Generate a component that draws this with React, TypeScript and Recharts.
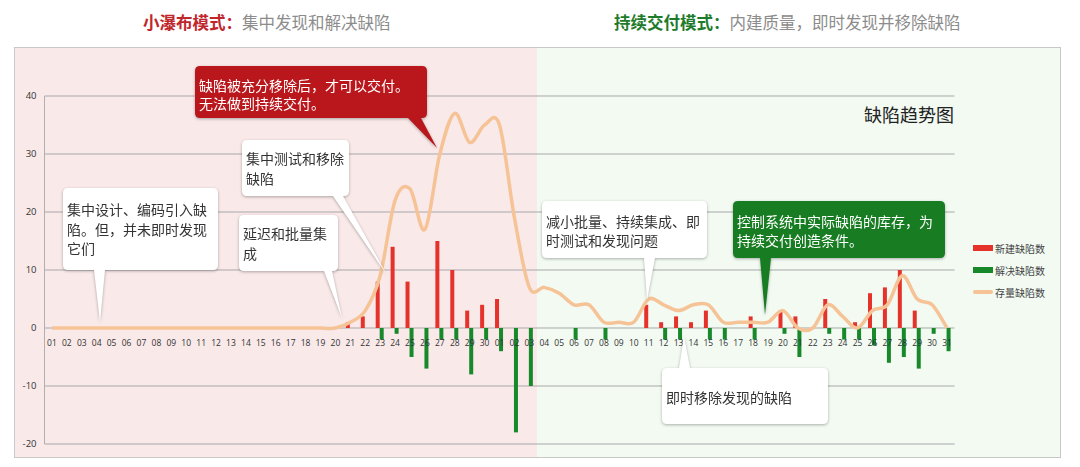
import React from 'react';
import { ComposedChart, Bar, Line, XAxis, YAxis, CartesianGrid, Legend } from 'recharts';

// 两个月的日期（上月 30 天，本月 31 天）
const days = [
  '01', '02', '03', '04', '05', '06', '07', '08', '09', '10',
  '11', '12', '13', '14', '15', '16', '17', '18', '19', '20',
  '21', '22', '23', '24', '25', '26', '27', '28', '29', '30',
  '01', '02', '03', '04', '05', '06', '07', '08', '09', '10',
  '11', '12', '13', '14', '15', '16', '17', '18', '19', '20',
  '21', '22', '23', '24', '25', '26', '27', '28', '29', '30', '31',
];

const newDefects = [
  0, 0, 0, 0, 0, 0, 0, 0, 0, 0,
  0, 0, 0, 0, 0, 0, 0, 0, 0, 0,
  1, 2, 8, 14, 8, 0, 15, 10, 3, 4,
  5, 0, 0, 0, 0, 0, 0, 0, 0, 0,
  4, 1, 2, 1, 3, 0, 0, 2, 0, 3,
  2, 0, 5, 0, 1, 6, 7, 10, 3, 0, 0,
];

const resolvedDefects = [
  0, 0, 0, 0, 0, 0, 0, 0, 0, 0,
  0, 0, 0, 0, 0, 0, 0, 0, 0, 0,
  0, 0, -2, -1, -5, -7, -2, -2, -8, -2,
  -4, -18, -10, 0, 0, -2, 0, -2, 0, 0,
  0, -2, -2, 0, -2, -2, 0, -2, 0, -1,
  -5, 0, -1, -2, -2, -3, -6, -5, -7, -1, -4,
];

const stockDefects = [
  0, 0, 0, 0, 0, 0, 0, 0, 0, 0,
  0, 0, 0, 0, 0, 0, 0, 0, 0, 0,
  1, 3, 9, 22, 24, 17, 30, 37, 32, 35,
  35, 19, 7, 7, 6, 4, 4, 1, 1, 1,
  5, 4, 3, 4, 4, 1, 1, 1, 1, 3,
  0, 0, 4, 2, 0, 3, 4, 9, 5, 4, 0,
];

const yTicks = [-20, -10, 0, 10, 20, 30, 40];
const legendOrder = ['新建缺陷数', '解决缺陷数', '存量缺陷数'];

const data = days.map((day, i) => ({
  day,
  newCount: newDefects[i],
  resolved: resolvedDefects[i],
  stock: stockDefects[i],
}));

const W = 1080;
const H = 467;
const PLOT_TOP = 96;
const PLOT_BOTTOM = 444;
const ZERO_Y = PLOT_TOP + ((PLOT_BOTTOM - PLOT_TOP) * 40) / 60;

const CJK = '"Noto Sans CJK SC", "Noto Sans", sans-serif';
const NUM = '"Open Sans", "DejaVu Sans", sans-serif';

// Excel 风格的平滑曲线（Catmull-Rom）
const smoothCurve = (context: any) => {
  let pts: number[][] = [];
  return {
    areaStart() {},
    areaEnd() {},
    lineStart() { pts = []; },
    lineEnd() {
      if (!pts.length) return;
      context.moveTo(pts[0][0], pts[0][1]);
      for (let i = 0; i < pts.length - 1; i++) {
        const p0 = pts[i - 1] || pts[i];
        const p1 = pts[i];
        const p2 = pts[i + 1];
        const p3 = pts[i + 2] || p2;
        context.bezierCurveTo(
          p1[0] + (p2[0] - p0[0]) / 6, p1[1] + (p2[1] - p0[1]) / 6,
          p2[0] - (p3[0] - p1[0]) / 6, p2[1] - (p3[1] - p1[1]) / 6,
          p2[0], p2[1],
        );
      }
    },
    point(x: number, y: number) { pts.push([+x, +y]); },
  };
};

const DayTick = (props: any) => {
  const { x, payload } = props;
  return (
    <text x={x} y={ZERO_Y + 14} textAnchor="middle" dominantBaseline="central"
      fontSize={8.5} fontFamily={NUM} fill="#333">
      {payload.value}
    </text>
  );
};

const renderLegend = (props: any) => {
  const items = [...(props.payload || [])].sort(
    (a: any, b: any) => legendOrder.indexOf(a.value) - legendOrder.indexOf(b.value),
  );
  return (
    <div>
      {items.map((entry: any) => (
        <div key={entry.value} style={{ display: 'flex', alignItems: 'center', height: 22 }}>
          <span style={{
            display: 'inline-block', width: 20,
            height: entry.type === 'line' ? 4 : 6,
            borderRadius: entry.type === 'line' ? 2 : 0,
            background: entry.color, marginRight: 2,
          }} />
          <span style={{ fontSize: 10, color: '#444', fontFamily: CJK }}>{entry.value}</span>
        </div>
      ))}
    </div>
  );
};

type Tail = { side: 'top' | 'bottom'; b1: number; b2: number; tx: number; ty: number };

const calloutPath = (x: number, y: number, w: number, h: number, r: number, t: Tail) => {
  const R = x + w, B = y + h;
  if (t.side === 'bottom') {
    return `M${x + r},${y} H${R - r} Q${R},${y} ${R},${y + r} V${B - r} Q${R},${B} ${R - r},${B}` +
      ` H${t.b2} L${t.tx},${t.ty} L${t.b1},${B} H${x + r} Q${x},${B} ${x},${B - r} V${y + r} Q${x},${y} ${x + r},${y} Z`;
  }
  return `M${x + r},${y} H${t.b1} L${t.tx},${t.ty} L${t.b2},${y} H${R - r} Q${R},${y} ${R},${y + r} V${B - r}` +
    ` Q${R},${B} ${R - r},${B} H${x + r} Q${x},${B} ${x},${B - r} V${y + r} Q${x},${y} ${x + r},${y} Z`;
};

const callouts = [
  { x: 195, y: 66, w: 232, h: 52, fill: '#b9171c', color: '#fff',
    tail: { side: 'bottom', b1: 408, b2: 421, tx: 437, ty: 148 } as Tail,
    lines: ['缺陷被充分移除后，才可以交付。', '无法做到持续交付。'], ys: [85, 103] },
  { x: 242, y: 140, w: 107, h: 56, fill: '#fff', color: '#333',
    tail: { side: 'bottom', b1: 333, b2: 343, tx: 387, ty: 275 } as Tail,
    lines: ['集中测试和移除', '缺陷'], ys: [158, 178] },
  { x: 63, y: 188, w: 155, h: 82, fill: '#fff', color: '#333',
    tail: { side: 'bottom', b1: 94, b2: 105, tx: 100, ty: 322 } as Tail,
    lines: ['集中设计、编码引入缺', '陷。但，并未即时发现', '它们'], ys: [209, 229, 248] },
  { x: 239, y: 215, w: 99, h: 56, fill: '#fff', color: '#333',
    tail: { side: 'bottom', b1: 324, b2: 332, tx: 342, ty: 318 } as Tail,
    lines: ['延迟和批量集', '成'], ys: [233, 253] },
  { x: 542, y: 201, w: 165, h: 57, fill: '#fff', color: '#333',
    tail: { side: 'bottom', b1: 644, b2: 655, tx: 647, ty: 300 } as Tail,
    lines: ['减小批量、持续集成、即', '时测试和发现问题'], ys: [221, 240] },
  { x: 733, y: 201, w: 212, h: 57, fill: '#177c22', color: '#fff',
    tail: { side: 'bottom', b1: 760, b2: 771, tx: 765, ty: 315 } as Tail,
    lines: ['控制系统中实际缺陷的库存，为', '持续交付创造条件。'], ys: [221, 240] },
  { x: 662, y: 368, w: 166, h: 56, fill: '#fff', color: '#333',
    tail: { side: 'top', b1: 679, b2: 690, tx: 684, ty: 336 } as Tail,
    lines: ['即时移除发现的缺陷'], ys: [397] },
];

const App: React.FC = () => {
  return (
    <div style={{ position: 'absolute', left: 0, top: 0, width: W, height: H, background: '#fff', fontFamily: CJK, overflow: 'hidden' }}>
      {/* 两个阶段的背景 */}
      <div style={{ position: 'absolute', left: 15, top: 48, width: 522, height: 409, background: '#f9e9e9' }} />
      <div style={{ position: 'absolute', left: 537, top: 48, width: 523, height: 409, background: '#f2faf2' }} />
      <div style={{ position: 'absolute', left: 14, top: 47, width: 1045, height: 409, border: '1px solid #c8c8c8' }} />

      <div style={{ position: 'absolute', left: 0, top: 0 }}>
        <ComposedChart width={W} height={H} data={data}
          margin={{ top: PLOT_TOP, right: 125.5, bottom: 3, left: 14.5 }}
          barSize={4} barGap={0}>
          <CartesianGrid horizontal vertical={false} stroke="#a9a9a9" />
          <XAxis dataKey="day" interval={0} axisLine={false} tickLine={false} height={20} tick={<DayTick />} />
          <YAxis domain={[-20, 40]} ticks={yTicks} width={30} tickLine={false}
            axisLine={{ stroke: '#b0b0b0' }}
            tick={{ fontSize: 9.5, fill: '#333', fontFamily: NUM }} />
          <Legend layout="vertical" align="center" verticalAlign="middle" content={renderLegend}
            wrapperStyle={{ left: 973, top: 237, width: 95 }} />
          <Bar dataKey="newCount" name="新建缺陷数" fill="#e5322b" isAnimationActive={false} />
          <Bar dataKey="resolved" name="解决缺陷数" fill="#17892b" isAnimationActive={false} />
          <Line dataKey="stock" name="存量缺陷数" type={smoothCurve as any} stroke="#f6c397" strokeWidth={3.5}
            dot={false} activeDot={false} isAnimationActive={false} />
        </ComposedChart>
      </div>

      <svg width={W} height={H} style={{ position: 'absolute', left: 0, top: 0, pointerEvents: 'none' }}>
        <text x={143} y={22} dominantBaseline="central" fontSize={16.5} fontFamily={CJK}>
          <tspan fill="#c0272d" fontWeight="bold">小瀑布模式：</tspan>
          <tspan fill="#8c8c8c">集中发现和解决缺陷</tspan>
        </text>
        <text x={614} y={22} dominantBaseline="central" fontSize={16.5} fontFamily={CJK}>
          <tspan fill="#1e7b2a" fontWeight="bold">持续交付模式：</tspan>
          <tspan fill="#8c8c8c">内建质量，即时发现并移除缺陷</tspan>
        </text>
        <text x={954} y={114} textAnchor="end" dominantBaseline="central" fontSize={18} fontFamily={CJK} fill="#222">
          缺陷趋势图
        </text>

        {callouts.map((c, i) => (
          <g key={i} style={{ filter: 'drop-shadow(0px 1px 1.5px rgba(0,0,0,0.3))' }}>
            <path d={calloutPath(c.x, c.y, c.w, c.h, 5, c.tail)} fill={c.fill} />
            {c.lines.map((ln, j) => (
              <text key={j} x={c.x + 4} y={c.ys[j]} dominantBaseline="central" fontSize={14}
                fontFamily={CJK} fill={c.color}>
                {ln}
              </text>
            ))}
          </g>
        ))}
      </svg>
    </div>
  );
};

export default App;
